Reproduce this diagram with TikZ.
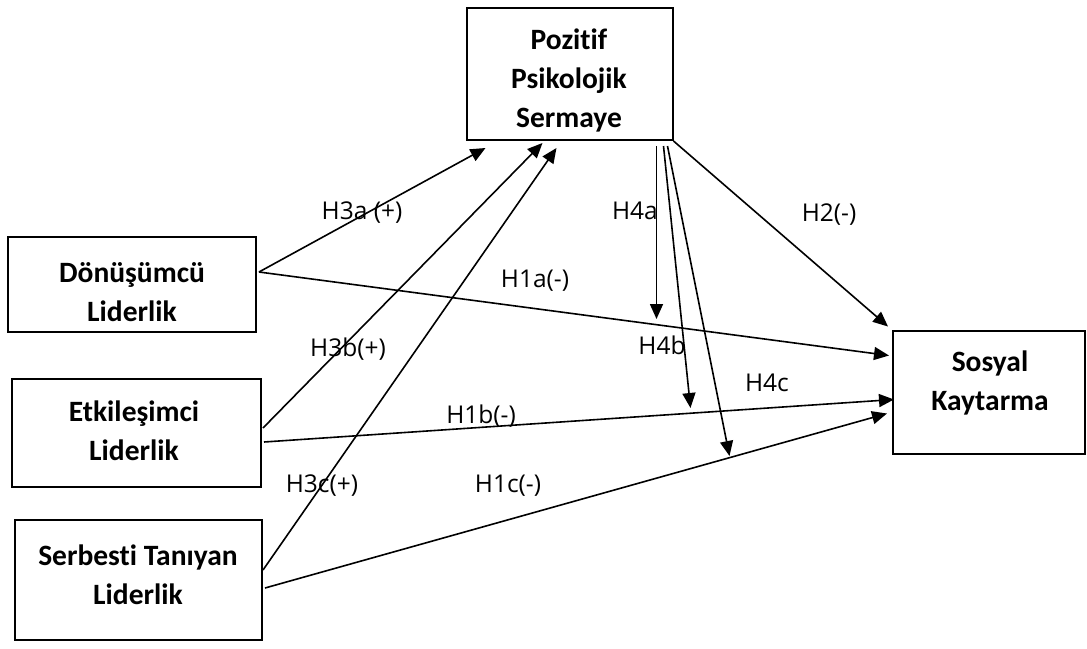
\documentclass[tikz,border=0pt]{standalone}
\usepackage{fontspec}
\setmainfont{Carlito}[RawFeature=-liga]
\newfontfamily\lblfont{Open Sans}
\usetikzlibrary{arrows.meta,calc}
\begin{document}
\begin{tikzpicture}[x=1pt,y=-1pt,
  box/.style={draw,line width=2pt,inner sep=0pt},
  boxtext/.style={font=\fontsize{29.5}{39}\selectfont\bfseries,align=center,inner sep=0pt},
  lbl/.style={font=\lblfont\fontsize{24.5}{28}\selectfont,inner sep=0pt,anchor=base},
  link/.style={line width=1.6pt,-{Triangle[length=15pt,width=13pt]}}]
\useasboundingbox (0,0) rectangle (1087,648);

% construct boxes
\node[box,minimum width=206pt,minimum height=132pt] (pps) at (569.5,74) {};
\node[box,minimum width=248pt,minimum height=95pt] (don) at (132,284.5) {};
\node[box,minimum width=249pt,minimum height=108pt] (etk) at (136.5,433) {};
\node[box,minimum width=247pt,minimum height=120pt] (ser) at (138.5,580) {};
\node[box,minimum width=192pt,minimum height=123pt] (sk) at (989,392) {};

% box captions
\node[boxtext] (ppsT) at (569,80) {Pozitif\\Psikolojik\\Sermaye};
\node[boxtext] (donT) at (132,292) {Dönüşümcü\\Liderlik};
\node[boxtext] (etkT) at (134,431) {Etkileşimci\\Liderlik};
\node[boxtext] (serT) at (138,575) {Serbesti Tanıyan\\Liderlik};
\node[boxtext] (skT) at (990,383) {Sosyal\\Kaytarma};

% leadership -> positive psychological capital
\draw[link] ([xshift=2pt,yshift=12.5pt]don.east) -- ($(pps.south west)+(20,7)$);
\draw[link] ([xshift=1pt,yshift=5pt]etk.east) -- ($(pps.south west)+(77,2)$);
\draw[link] ([yshift=10pt]ser.east) -- ($(pps.south west)+(91,7)$);

% leadership -> social loafing
\draw[link] ([xshift=2pt,yshift=12.5pt]don.east) -- ($(sk.west)+(-3,-36.5)$);
\draw[link] ([xshift=2pt,yshift=-9pt]etk.east) -- ($(sk.west)+(2,7.5)$);
\draw[link] ([xshift=2pt,yshift=-8pt]ser.east) -- ($(sk.west)+(-5,21.5)$);

% capital -> social loafing
\draw[link] (pps.south east) -- ($(sk.north west)+(-4,-3)$);

% moderation arrows
\draw[link] ($(pps.south west)+(191,5)$) -- ($(pps.south west)+(191,178)$);
\draw[link] ($(pps.south west)+(198,5)$) -- ($(pps.south west)+(225,267)$);
\draw[link] ($(pps.south west)+(202,5)$) -- ($(pps.south west)+(264,315)$);

% hypothesis labels
\node[lbl] (h3a) at (362,219) {H3a (+)};
\node[lbl] (h1a) at (535,287) {H1a(-)};
\node[lbl] (h3b) at (348,356) {H3b(+)};
\node[lbl] (h1b) at (481,423) {H1b(-)};
\node[lbl] (h3c) at (322,492) {H3c(+)};
\node[lbl] (h1c) at (508,492) {H1c(-)};
\node[lbl] (h4a) at (635,219) {H4a};
\node[lbl] (h4b) at (662,354) {H4b};
\node[lbl] (h4c) at (767,391) {H4c};
\node[lbl] (h2) at (829,221) {H2(-)};
\end{tikzpicture}
\end{document}
